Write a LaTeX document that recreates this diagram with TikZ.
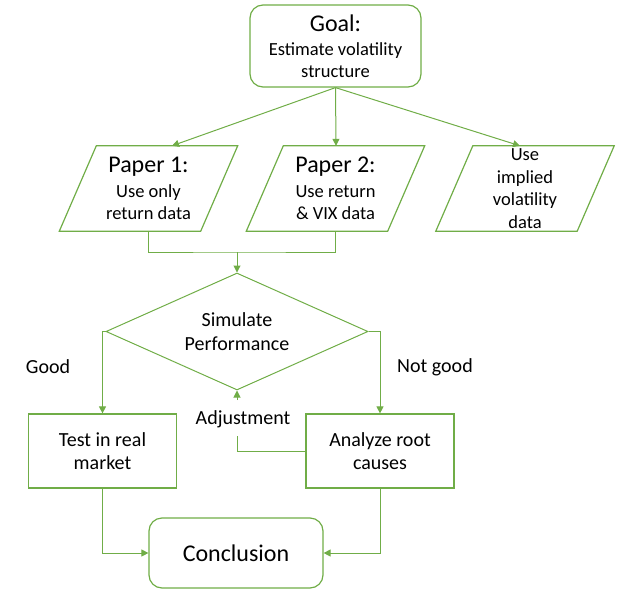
\documentclass[tikz,border=0pt]{standalone}
\usepackage{fontspec}
\setmainfont{Carlito}
\usetikzlibrary{shapes.geometric,arrows.meta,calc}
\definecolor{grn}{HTML}{70AD47}
\begin{document}
\begin{tikzpicture}[x=1pt,y=-1pt,
  line/.style={draw=grn,line width=1pt},
  arr/.style={line,-{Triangle[length=7pt,width=7pt]}},
  boxline/.style={draw=grn,line width=1.2pt},
  topfont/.style={font=\fontsize{18.5}{22.5}\selectfont},
  botfont/.style={font=\fontsize{20}{23.5}\selectfont},
  headfont/.style={font=\fontsize{24}{28}\selectfont},
  rbox/.style={boxline,rounded corners=13pt,inner sep=0pt,align=center},
  sbox/.style={boxline,inner sep=0pt,align=center,minimum width=148pt,minimum height=74pt,botfont},
  pbox/.style={inner sep=0pt,align=center,minimum width=141pt,minimum height=85pt,topfont}]
\useasboundingbox (0,0) rectangle (621,589);
% Goal
\node[rbox,topfont,minimum width=171pt,minimum height=82pt] (goal) at (335.5,46)
  {{\fontsize{24}{28}\selectfont Goal:}\\[1.5pt] Estimate volatility\\ structure};
% Papers
\node[pbox] (p1) at (148.5,188.5) {{\fontsize{24}{28}\selectfont Paper 1:}\\[2pt] Use only\\ return data};
\node[pbox] (p2) at (335.5,188.5) {{\fontsize{24}{28}\selectfont Paper 2:}\\[2pt] Use return\\ \&~VIX data};
\node[pbox] (p3) at (525,188.5) {Use\\ implied\\ volatility\\ data};
\foreach \p in {p1,p2,p3}{
  \draw[boxline] ($(\p.south west)+(-18.5,0)$) -- ($(\p.south east)+(-18.5,0)$)
    -- ($(\p.north east)+(18.5,0)$) -- ($(\p.north west)+(18.5,0)$) -- cycle;
}
% Diamond
\node[diamond,draw=grn,line width=1pt,inner sep=0pt,shape aspect=2.24,minimum width=262pt,minimum height=117pt,align=center,botfont] (sim) at (237,331.5)
  {Simulate\\ Performance};
% Boxes
\node[sbox] (test) at (102.5,451) {Test in real\\ market};
\node[sbox] (an) at (380,451) {Analyze root\\ causes};
\node[rbox,headfont,minimum width=174pt,minimum height=70pt] (con) at (236,553) {Conclusion};
% Labels
\node[botfont] (good) at (48,367) {Good};
\node[botfont] (notgood) at (435,367) {Not good};
\node[botfont] (adj) at (243,419) {Adjustment};
\coordinate (adjlo) at (237,436);
\coordinate (adjhi) at (237,400);
\coordinate (merge) at (237,252);
% Connectors
\draw[arr] (goal.south) -- (172,0 |- p1.north);
\draw[arr] (goal.south) -- (336,0 |- p2.north);
\draw[arr] (goal.south) -- (520,0 |- p3.north);
\draw[line] (p1.south) |- (merge) -| (p2.south);
\draw[arr] (merge) -- (sim.north);
\draw[arr] (sim.west) -| (test.north);
\draw[arr] (sim.east) -| (an.north);
\draw[line] (an.west) -| (adjlo);
\draw[arr] (adjhi) -- (sim.south);
\draw[arr] (test.south) |- (con.west);
\draw[arr] (an.south) |- (con.east);
\end{tikzpicture}
\end{document}
